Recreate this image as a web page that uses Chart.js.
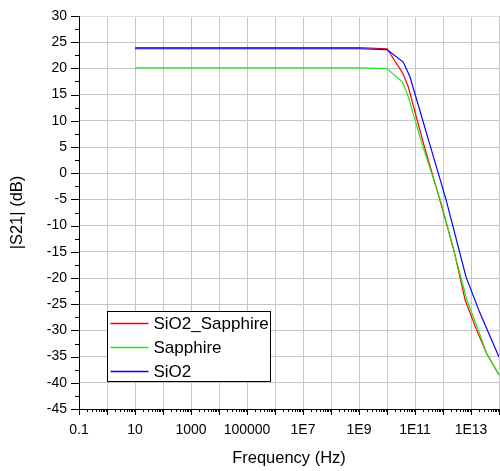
<!DOCTYPE html>
<html>
<head>
<meta charset="utf-8">
<script src="https://cdn.jsdelivr.net/npm/chart.js@4/dist/chart.umd.min.js"></script>
<style>
  html, body { margin: 0; padding: 0; background: #fff; }
  #wrap { width: 500px; height: 471px; position: relative; }
</style>
</head>
<body>
<div id="wrap"><canvas id="s21Chart"></canvas></div>
<script>
// |S21| sweeps, frequency in Hz, magnitude in dB
const freqSiO2Sapphire = [10, 1e9, 1e10, 3.63e10, 5.75e10, 1.86e11, 8.3e11, 2.45e12, 6.17e12, 1.58e13, 3.63e13, 1e14];
const s21SiO2Sapphire = [23.95, 23.95, 23.75, 19.1, 16.5, 6.3, -5.7, -14.7, -24.2, -29.9, -34.4, -38.5];

const freqSapphire = [10, 1e9, 1e10, 3.63e10, 5.75e10, 1.62e11, 8.7e11, 7.08e12, 1.82e13, 3.63e13, 1e14];
const s21Sapphire = [20.1, 20.1, 19.95, 17.35, 14.6, 6.3, -5.7, -24.2, -29.9, -34.4, -38.5];

const freqSiO2 = [10, 1e9, 1e10, 3.8e10, 6.6e10, 3.72e11, 1.29e12, 6.6e12, 2.09e13, 1e14];
const s21SiO2 = [23.75, 23.75, 23.6, 21.2, 18.4, 4.75, -5.1, -19.75, -26.7, -35.1];

const seriesNames = ["SiO2_Sapphire", "Sapphire", "SiO2"];
const seriesColors = ["#ff0000", "#1ee61e", "#0000ff"];

const FONT = "'Liberation Sans', Arial, sans-serif";

function toPoints(xs, ys) {
  return xs.map((x, i) => ({ x: x, y: ys[i] }));
}

function expOf(v) {
  return Math.round(Math.log10(v));
}

function isDecade(v) {
  return Math.abs(v / Math.pow(10, expOf(v)) - 1) < 1e-6;
}

// tick marks on the left and bottom axes, plus the boxed legend
const axisTicks = {
  id: "axisTicks",
  afterDraw(chart) {
    const ctx = chart.ctx;
    const area = chart.chartArea;
    const xs = chart.scales.x;
    const ys = chart.scales.y;
    ctx.save();
    ctx.strokeStyle = "#000";
    ctx.lineWidth = 1;
    ctx.beginPath();
    for (let v = -45; v <= 30; v += 2.5) {
      const y = Math.round(ys.getPixelForValue(v)) + 0.5;
      const len = v % 5 === 0 ? 8 : 4;
      ctx.moveTo(area.left - len, y);
      ctx.lineTo(area.left, y);
    }
    xs.ticks.forEach(t => {
      const x = Math.round(xs.getPixelForValue(t.value)) + 0.5;
      const len = isDecade(t.value) ? 6 : 3;
      ctx.moveTo(x, area.bottom);
      ctx.lineTo(x, area.bottom + len);
    });
    ctx.stroke();

    // legend
    const lx = area.left + 28.5, ly = area.top + 295.5, lw = 163, lh = 70;
    ctx.fillStyle = "#fff";
    ctx.fillRect(lx, ly, lw, lh);
    ctx.strokeStyle = "#000";
    ctx.strokeRect(lx, ly, lw, lh);
    ctx.font = "17px " + FONT;
    ctx.textBaseline = "middle";
    ctx.textAlign = "left";
    chart.data.datasets.forEach((ds, i) => {
      const cy = ly + 12 + i * 24;
      ctx.strokeStyle = ds.borderColor;
      ctx.lineWidth = 1.3;
      ctx.beginPath();
      ctx.moveTo(lx + 3, cy);
      ctx.lineTo(lx + 41, cy);
      ctx.stroke();
      ctx.fillStyle = "#000";
      ctx.fillText(ds.label, lx + 46, cy + 1);
    });
    ctx.restore();
  }
};

const data = {
  datasets: [
    { label: seriesNames[0], data: toPoints(freqSiO2Sapphire, s21SiO2Sapphire), borderColor: seriesColors[0], order: 2 },
    { label: seriesNames[1], data: toPoints(freqSapphire, s21Sapphire), borderColor: seriesColors[1], order: 1 },
    { label: seriesNames[2], data: toPoints(freqSiO2, s21SiO2), borderColor: seriesColors[2], order: 0 }
  ].map(d => Object.assign(d, { borderWidth: 1.2, pointRadius: 0, tension: 0, fill: false }))
};

const options = {
  responsive: true,
  maintainAspectRatio: false,
  animation: false,
  layout: { padding: { top: 16, right: 1, left: 0, bottom: 0 } },
  plugins: { legend: { display: false }, tooltip: { enabled: false } },
  scales: {
    x: {
      type: "logarithmic",
      position: "bottom",
      min: 0.1,
      max: 1e14,
      afterBuildTicks(scale) {
        const ticks = [];
        for (let e = -1; e < 14; e++) {
          for (let m = 1; m <= 9; m++) ticks.push({ value: m * Math.pow(10, e) });
        }
        ticks.push({ value: 1e14 });
        scale.ticks = ticks;
      },
      afterFit(scale) {
        scale.height = 62;
        scale.paddingLeft = 0;
        scale.paddingRight = 0;
      },
      grid: {
        drawTicks: false,
        color: c => (c.tick && isDecade(c.tick.value)) ? "#c6c6c6" : "rgba(0,0,0,0)",
        lineWidth: 1
      },
      border: { display: true, color: "#000", width: 1 },
      ticks: {
        autoSkip: false,
        maxRotation: 0,
        minRotation: 0,
        padding: 13,
        color: "#000",
        font: { family: FONT, size: 14 },
        callback(v) {
          if (!isDecade(v)) return "";
          const e = expOf(v);
          if (e % 2 === 0) return "";
          if (e < 0) return "0.1";
          if (e <= 5) return String(Math.pow(10, e));
          return "1E" + e;
        }
      },
      title: {
        display: true,
        text: "Frequency (Hz)",
        color: "#000",
        font: { family: FONT, size: 16.5 },
        padding: { top: 0, bottom: 3 }
      }
    },
    y: {
      min: -45,
      max: 30,
      afterFit(scale) {
        scale.width = 79;
        scale.paddingTop = 0;
        scale.paddingBottom = 0;
      },
      grid: {
        drawTicks: false,
        color: c => (c.tick && c.tick.value === 30) ? "#dedede" : "#c6c6c6",
        lineWidth: 1
      },
      border: { display: true, color: "#000", width: 1 },
      ticks: {
        stepSize: 5,
        padding: 12,
        color: "#000",
        font: { family: FONT, size: 14 }
      },
      title: {
        display: true,
        text: "|S21| (dB)",
        color: "#000",
        font: { family: FONT, size: 16.5 },
        padding: { top: 8, bottom: 0 }
      }
    }
  }
};

new Chart(document.getElementById("s21Chart").getContext("2d"), {
  type: "line",
  data,
  options,
  plugins: [axisTicks]
});
</script>
</body>
</html>
